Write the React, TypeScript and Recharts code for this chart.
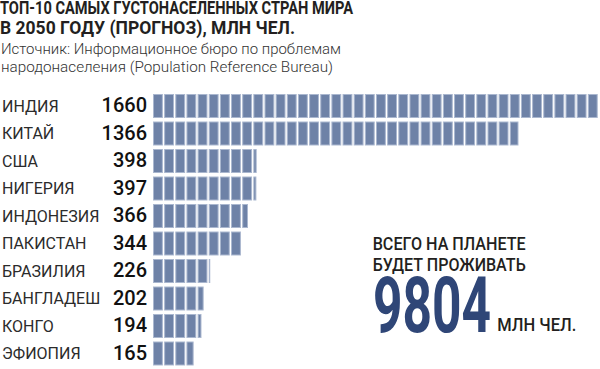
import React from 'react';
import { BarChart, Bar, XAxis, YAxis } from 'recharts';

const countries = ['ИНДИЯ', 'КИТАЙ', 'США', 'НИГЕРИЯ', 'ИНДОНЕЗИЯ', 'ПАКИСТАН', 'БРАЗИЛИЯ', 'БАНГЛАДЕШ', 'КОНГО', 'ЭФИОПИЯ'];
const population = [1660, 1366, 398, 397, 366, 344, 226, 202, 194, 165];
const titleLines = ['ТОП-10 САМЫХ ГУСТОНАСЕЛЕННЫХ СТРАН МИРА', 'В 2050 ГОДУ (ПРОГНОЗ), МЛН ЧЕЛ.'];
const sourceLines = ['Источник: Информационное бюро по проблемам', 'народонаселения (Population Reference Bureau)'];
const totalLines = ['ВСЕГО НА ПЛАНЕТЕ', 'БУДЕТ ПРОЖИВАТЬ'];
const totalValue = '9804';
const totalUnit = 'МЛН ЧЕЛ.';

const data = countries.map((c, i) => ({ country: c, value: population[i] }));

const FONT = 'Roboto, "DejaVu Sans", sans-serif';
const PITCH = 11.15;
const GAP = 4;

const SegmentedBar = (props: any) => {
  const { x, y, width, height } = props;
  const start = x + GAP;
  const end = x + width;
  const blocks: any[] = [];
  for (let bx = start; bx < end - 1; bx += PITCH) {
    const w = Math.min(PITCH - 1.3, end - bx);
    blocks.push(
      <rect
        key={bx}
        x={bx + 0.5}
        y={y + 0.5}
        width={Math.max(w - 1, 0.5)}
        height={height - 1}
        fill="#6e82a7"
        stroke="#aab7cf"
        strokeWidth={1}
      />
    );
  }
  return <g>{blocks}</g>;
};

const CountryTick = (props: any) => {
  const { y, payload, index } = props;
  return (
    <g>
      <text x={2} y={y + 5.8} fontFamily={FONT} fontWeight={400} fontSize={16} fill="#2b2b2b">
        {payload.value}
      </text>
      <text x={147} y={y + 6.5} textAnchor="end" fontFamily={FONT} fontWeight={500} fontSize={20} fill="#111">
        {population[index]}
      </text>
    </g>
  );
};

export default function App() {
  return (
    <div style={{ position: 'absolute', left: 0, top: 0, width: 600, height: 369, background: '#fff' }}>
      <BarChart
        width={600}
        height={369}
        data={data}
        layout="vertical"
        margin={{ top: 92, right: 2, bottom: 2, left: 0 }}
      >
        <XAxis type="number" domain={[0, 1660]} hide />
        <YAxis
          type="category"
          dataKey="country"
          width={149}
          axisLine={false}
          tickLine={false}
          interval={0}
          tick={<CountryTick />}
        />
        <Bar dataKey="value" barSize={24} isAnimationActive={false} shape={<SegmentedBar />} />
      </BarChart>
      <svg
        width={600}
        height={369}
        style={{ position: 'absolute', left: 0, top: 0, pointerEvents: 'none' }}
      >
        <text x={0} y={14} fontFamily={FONT} fontWeight={700} fontSize={17.5} fill="#231f20" textLength={353} lengthAdjust="spacingAndGlyphs">
          {titleLines[0]}
        </text>
        <text x={0} y={33.5} fontFamily={FONT} fontWeight={700} fontSize={17.5} fill="#231f20" textLength={295} lengthAdjust="spacingAndGlyphs">
          {titleLines[1]}
        </text>
        <text x={1} y={53.5} fontFamily={FONT} fontWeight={300} fontSize={15.5} fill="#333" textLength={340} lengthAdjust="spacingAndGlyphs">
          {sourceLines[0]}
        </text>
        <text x={1} y={71.5} fontFamily={FONT} fontWeight={300} fontSize={15.5} fill="#333" textLength={332} lengthAdjust="spacingAndGlyphs">
          {sourceLines[1]}
        </text>
        <text x={372.7} y={249.5} fontFamily={FONT} fontWeight={500} fontSize={19} fill="#231f20" textLength={153} lengthAdjust="spacingAndGlyphs">
          {totalLines[0]}
        </text>
        <text x={372.7} y={271} fontFamily={FONT} fontWeight={500} fontSize={19} fill="#231f20" textLength={153} lengthAdjust="spacingAndGlyphs">
          {totalLines[1]}
        </text>
        <text x={373} y={332} fontFamily={FONT} fontWeight={700} fontSize={77} fill="#2f4677" textLength={118} lengthAdjust="spacingAndGlyphs">
          {totalValue}
        </text>
        <text x={497.3} y={331} fontFamily={FONT} fontWeight={500} fontSize={19} fill="#231f20" textLength={79} lengthAdjust="spacingAndGlyphs">
          {totalUnit}
        </text>
      </svg>
    </div>
  );
}
